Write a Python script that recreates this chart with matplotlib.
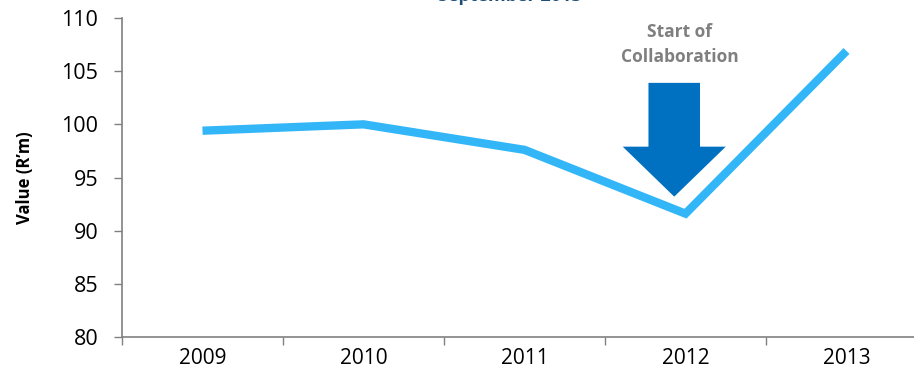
import matplotlib.pyplot as plt
from matplotlib.patches import Polygon

years = ['2009', '2010', '2011', '2012', '2013']
values = [99.4, 100.0, 97.6, 91.6, 106.9]

plt.rcParams['font.family'] = ['Open Sans', 'DejaVu Sans']

fig = plt.figure(figsize=(9.14, 3.85), dpi=100)
ax = fig.add_axes([122/914, 48/385, 805/914, 319/385])

x = list(range(len(years)))
ax.plot(x, values, color='#33B6F7', lw=6, solid_joinstyle='miter', solid_capstyle='butt')

ax.set_ylim(80, 110)
ax.set_yticks(range(80, 111, 5))
ax.set_xlim(-0.5, len(years) - 0.5)
ax.set_xticks([i - 0.5 for i in range(len(years) + 1)])
ax.set_xticklabels([])
ax.set_xticks(x, minor=True)
ax.set_xticklabels(years, minor=True)
ax.tick_params(axis='x', which='minor', length=0, labelsize=15, pad=8)
ax.tick_params(axis='x', which='major', length=6, color='#808080', width=1)
ax.tick_params(axis='y', length=6, color='#808080', width=1, labelsize=15.5, pad=11)

for s in ['top', 'right']:
    ax.spines[s].set_visible(False)
for s in ['left', 'bottom']:
    ax.spines[s].set_color('#808080')
    ax.spines[s].set_linewidth(1.2)

ax.set_ylabel("Value (R\u2019m)", fontsize=12, fontweight='bold', labelpad=20)

# collaboration arrow over 2012
ax_x = 2.93
sw, hw = 0.16, 0.32
top, neck, tip = 103.9, 97.9, 93.2
arrow = Polygon([(ax_x - sw, top), (ax_x + sw, top), (ax_x + sw, neck), (ax_x + hw, neck),
                 (ax_x, tip), (ax_x - hw, neck), (ax_x - sw, neck)],
                closed=True, facecolor='#0070C0', edgecolor='none', zorder=3)
ax.add_patch(arrow)
ax.text(2.965, 107.5, 'Start of\nCollaboration', ha='center', va='center', fontsize=12.5,
        fontweight='bold', color='#7F7F7F', linespacing=1.5)

# title is cut off at the top edge in the original
fig.text(0.558, 0.9975, 'September 2013', ha='center', va='baseline', fontsize=13,
         fontweight='bold', color='#1F4E79')

fig.savefig('out.png', dpi=100)
